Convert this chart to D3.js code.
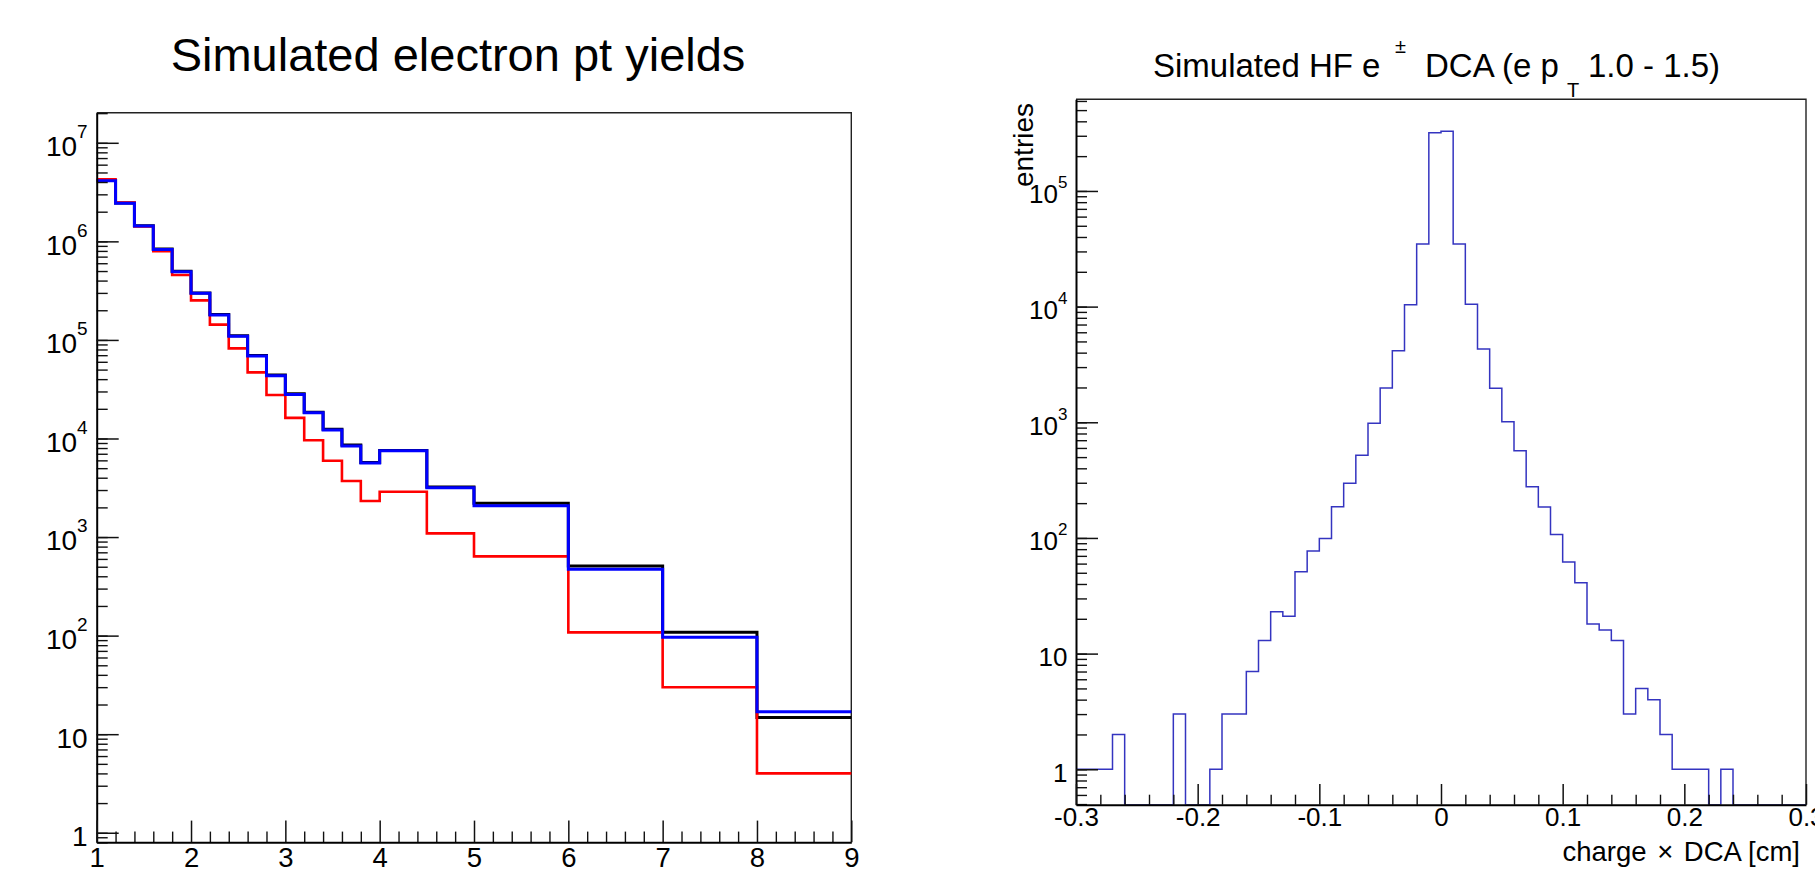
<!DOCTYPE html>
<html><head><meta charset="utf-8">
<script src="https://cdn.jsdelivr.net/npm/d3@7"></script>
<style>
html,body{margin:0;padding:0;background:#fff;overflow:hidden}
text{font-family:"Liberation Sans",Arial,Helvetica,sans-serif;fill:#000}
</style>
</head><body>
<svg id="c" width="1815" height="873" xmlns="http://www.w3.org/2000/svg"></svg>
<script>
// ---------- Data: left panel (electron pt yields) ----------
const ptEdges = [1,1.2,1.4,1.6,1.8,2.0,2.2,2.4,2.6,2.8,3.0,3.2,3.4,3.6,3.8,4.0,4.5,5,6,7,8,9];
const ptBlack = [4.15e6,2.45e6,1.44e6,8.35e5,4.98e5,3.0e5,1.81e5,1.1e5,6.95e4,4.4e4,2.85e4,1.85e4,1.24e4,8.6e3,5.7e3,7.55e3,3.22e3,2.2e3,508,108,14.8];
const ptRed   = [4.25e6,2.48e6,1.42e6,7.96e5,4.55e5,2.52e5,1.43e5,8.2e4,4.69e4,2.76e4,1.62e4,9.6e3,5.94e3,3.7e3,2.32e3,2.88e3,1.09e3,637,108,29.9,4.0];
const ptBlue  = [4.11e6,2.43e6,1.43e6,8.28e5,4.92e5,2.97e5,1.79e5,1.09e5,6.86e4,4.33e4,2.8e4,1.82e4,1.22e4,8.4e3,5.63e3,7.5e3,3.16e3,2.08e3,470,96,16.9];
const leftXTicks = [1,2,3,4,5,6,7,8,9];
const leftXLabels = ["1","2","3","4","5","6","7","8","9"];
const leftYTicks = [1,10,1e2,1e3,1e4,1e5,1e6,1e7];
const leftTitle = "Simulated electron pt yields";

// ---------- Data: right panel (HF e DCA) ----------
const dcaEdges = [-0.30,-0.29,-0.28,-0.27,-0.26,-0.25,-0.24,-0.23,-0.22,-0.21,
  -0.20,-0.19,-0.18,-0.17,-0.16,-0.15,-0.14,-0.13,-0.12,-0.11,
  -0.10,-0.09,-0.08,-0.07,-0.06,-0.05,-0.04,-0.03,-0.02,-0.01,
  0.00,0.01,0.02,0.03,0.04,0.05,0.06,0.07,0.08,0.09,
  0.10,0.11,0.12,0.13,0.14,0.15,0.16,0.17,0.18,0.19,
  0.20,0.21,0.22,0.23,0.24,0.25,0.26,0.27,0.28,0.29,0.30];
const dcaCounts = [1,1,1,2,0,0,0,0,3,0,
  0,1,3,3,7,13,23,21,51,77,
  99,186,297,518,980,1980,4160,10400,34800,319000,
  328000,34800,10500,4300,1970,1010,568,277,185,107,
  62,41,18,16,13,3,5,4,2,1,
  1,1,0,1,0,0,0,0,0,0];
const rightXTicks = [-0.3,-0.2,-0.1,0,0.1,0.2,0.3];
const rightXLabels = ["-0.3","-0.2","-0.1","0","0.1","0.2","0.3"];
const rightYTicks = [1,10,1e2,1e3,1e4,1e5];
const rightXTitleParts = ["charge", "\u00D7", "DCA [cm]"];
const rightYTitle = "entries";

// ---------- Drawing ----------
const svg = d3.select("#c");
svg.append("rect").attr("width",1815).attr("height",873).attr("fill","#fff");

function minorLogTicks(lo, hi){
  const out=[];
  for(let e=-2;e<=8;e++){
    for(let m=1;m<=9;m++){
      const v=m*Math.pow(10,e);
      if(v>=lo*0.9999 && v<=hi*1.0001) out.push(v);
    }
  }
  return out;
}
function supLabel(sel, fsExp, raise){
  sel.each(function(d){
    const t=d3.select(this);
    t.text(null);
    if(d===1){ t.text("1"); }
    else if(d===10){ t.text("10"); }
    else {
      const e=Math.round(Math.log10(d));
      t.append("tspan").text("10");
      t.append("tspan").attr("font-size",fsExp).attr("dy",-raise).text(e);
    }
  });
}
function stepPoints(edges, vals, x, y){
  const y0 = y.range()[0];
  const pts=[];
  vals.forEach((v,i)=>{
    const yy = v>0 ? y(v) : y0;
    pts.push([x(edges[i]),yy],[x(edges[i+1]),yy]);
  });
  return pts;
}
const line = d3.line();

function panel(cfg){
  const {x,y} = cfg;
  const [L,R] = x.range(); const [B,T] = y.range();
  const g = svg.append("g");
  const clipId = cfg.id+"clip";
  g.append("clipPath").attr("id",clipId).append("rect")
    .attr("x",L).attr("y",T-2).attr("width",R-L).attr("height",B-T+2);
  g.append("path").attr("d",`M${L},${T}H${R}V${B}`).attr("fill","none")
    .attr("stroke","#222").attr("stroke-width",1.4);
  const hg = g.append("g").attr("clip-path",`url(#${clipId})`);
  cfg.series.forEach(s=>{
    hg.append("path").attr("d",line(stepPoints(cfg.edges,s.vals,x,y)))
      .attr("fill","none").attr("stroke",s.color).attr("stroke-width",s.w)
      .attr("stroke-linejoin","miter").attr("stroke-linecap","square");
  });
  const yMinor = d3.axisLeft(y).tickValues(minorLogTicks(y.domain()[0],y.domain()[1]))
    .tickSize(-cfg.yMinorLen).tickFormat("").tickSizeOuter(0);
  const gyMin = g.append("g").attr("transform",`translate(${L},0)`).call(yMinor);
  gyMin.select(".domain").remove();
  gyMin.selectAll("line").attr("stroke","#111").attr("stroke-width",1.4);
  const yMajor = d3.axisLeft(y).tickValues(cfg.yTicks).tickSize(-cfg.yMajorLen)
    .tickSizeOuter(0).tickPadding(cfg.yPad);
  const gy = g.append("g").attr("transform",`translate(${L},0)`).call(yMajor);
  gy.select(".domain").attr("stroke","#000").attr("stroke-width",2);
  gy.selectAll("line").attr("stroke","#111").attr("stroke-width",1.5);
  gy.selectAll("text").attr("font-size",cfg.fs).attr("dy","0.46em")
    .attr("font-family",'"Liberation Sans",Arial,Helvetica,sans-serif')
    .call(supLabel, cfg.fsExp, cfg.raise);
  const xMinor = d3.axisBottom(x).tickValues(cfg.xMinor).tickSize(-cfg.xMinorLen)
    .tickFormat("").tickSizeOuter(0);
  const gxMin = g.append("g").attr("transform",`translate(0,${B})`).call(xMinor);
  gxMin.select(".domain").remove();
  gxMin.selectAll("line").attr("stroke","#111").attr("stroke-width",1.4);
  const xMajor = d3.axisBottom(x).tickValues(cfg.xTicks).tickSize(-cfg.xMajorLen)
    .tickSizeOuter(0).tickPadding(cfg.xPad)
    .tickFormat((d,i)=>cfg.xLabels[i]);
  const gx = g.append("g").attr("transform",`translate(0,${B})`).call(xMajor);
  gx.select(".domain").attr("stroke","#000").attr("stroke-width",2);
  gx.selectAll("line").attr("stroke","#111").attr("stroke-width",1.5);
  gx.selectAll("text").attr("font-size",cfg.fsX)
    .attr("font-family",'"Liberation Sans",Arial,Helvetica,sans-serif');
  return g;
}

// Left panel
const xL = d3.scaleLinear().domain([1,9]).range([96.7,851.3]);
const yL = d3.scaleLog().domain([0.8,2.02e7]).range([842.3,112.7]);
panel({
  id:"L", x:xL, y:yL, edges:ptEdges,
  series:[{vals:ptBlack,color:"#000000",w:3},{vals:ptRed,color:"#ff0000",w:2.6},{vals:ptBlue,color:"#0000ff",w:3}],
  yTicks:leftYTicks, yMinorLen:11, yMajorLen:22, yPad:9, fs:28, fsExp:19, raise:18,
  xTicks:leftXTicks, xLabels:leftXLabels,
  xMinor:[1.2,1.4,1.6,1.8,2.2,2.4,2.6,2.8,3.2,3.4,3.6,3.8,4.2,4.4,4.6,4.8,5.2,5.4,5.6,5.8,6.2,6.4,6.6,6.8,7.2,7.4,7.6,7.8,8.2,8.4,8.6,8.8],
  xMinorLen:10.7, xMajorLen:21.7, xPad:5, fsX:27.5
});
svg.append("text").attr("x",458).attr("y",71).attr("text-anchor","middle")
  .attr("font-size",47).text(leftTitle);

// Right panel
const xR = d3.scaleLinear().domain([-0.3,0.3]).range([1076,1806]);
const yR = d3.scaleLog().domain([0.494,6.2e5]).range([804.7,99.3]);
panel({
  id:"R", x:xR, y:yR, edges:dcaEdges,
  series:[{vals:dcaCounts,color:"#3434c0",w:1.5}],
  yTicks:rightYTicks, yMinorLen:11, yMajorLen:22, yPad:8.5, fs:26, fsExp:17, raise:15,
  xTicks:rightXTicks, xLabels:rightXLabels,
  xMinor:[-0.28,-0.26,-0.24,-0.22,-0.18,-0.16,-0.14,-0.12,-0.08,-0.06,-0.04,-0.02,0.02,0.04,0.06,0.08,0.12,0.14,0.16,0.18,0.22,0.24,0.26,0.28],
  xMinorLen:10, xMajorLen:20.7, xPad:3, fsX:26
});
// right title with super/subscript
const rt = svg.append("text").attr("font-size",33);
rt.append("tspan").attr("x",1153).attr("y",76.7).text("Simulated HF e");
rt.append("tspan").attr("x",1395).attr("y",53).attr("font-size",20).text("\u00B1");
rt.append("tspan").attr("x",1425).attr("y",76.7).text("DCA (e p");
rt.append("tspan").attr("x",1567).attr("y",97).attr("font-size",20).text("T");
rt.append("tspan").attr("x",1588).attr("y",76.7).text("1.0 - 1.5)");
// axis titles
const xt = svg.append("text").attr("x",1800).attr("y",861).attr("text-anchor","end")
  .attr("font-size",27.5);
xt.append("tspan").text(rightXTitleParts[0]);
xt.append("tspan").attr("dx",3).text(" " + rightXTitleParts[1]);
xt.append("tspan").attr("dx",3).text(" " + rightXTitleParts[2]);
svg.append("text").attr("transform","translate(1033,103) rotate(-90)")
  .attr("text-anchor","end").attr("font-size",28).text(rightYTitle);
</script>
</body></html>
